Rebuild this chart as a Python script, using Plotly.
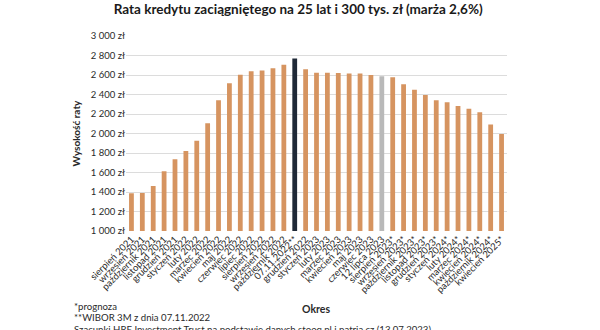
import plotly.graph_objects as go

categories = [
    "sierpień 2021", "wrzesień 2021", "październik 2021", "listopad 2021", "grudzień 2021",
    "styczeń 2022", "luty 2022", "marzec 2022", "kwiecień 2022", "maj 2022",
    "czerwiec 2022", "lipiec 2022", "sierpień 2022", "wrzesień 2022", "październik 2022",
    "07.11.2022**", "grudzień 2022", "styczeń 2023", "luty 2023", "marzec 2023",
    "kwiecień 2023", "maj 2023", "czerwiec 2023", "12 lipca 2023", "sierpień 2023*",
    "wrzesień 2023*", "październik 2023*", "listopad 2023*", "grudzień 2023*", "styczeń 2024*",
    "luty 2024*", "marzec 2024*", "kwiecień 2024*", "październik 2024*", "kwiecień 2025*",
]
values = [
    1388, 1390, 1462, 1612, 1735, 1820, 1926, 2104, 2340, 2515,
    2602, 2638, 2646, 2668, 2706, 2768, 2658, 2622, 2622, 2620,
    2616, 2616, 2600, 2586, 2576, 2506, 2448, 2396, 2342, 2321,
    2283, 2253, 2219, 2092, 1996,
]
tick_vals = [1000, 1200, 1400, 1600, 1800, 2000, 2200, 2400, 2600, 2800, 3000]
tick_text = ["1 000 zł", "1 200 zł", "1 400 zł", "1 600 zł", "1 800 zł", "2 000 zł",
             "2 200 zł", "2 400 zł", "2 600 zł", "2 800 zł", "3 000 zł"]

ORANGE = "#d69460"
colors = [ORANGE] * len(categories)
colors[categories.index("07.11.2022**")] = "#1f2937"
colors[categories.index("12 lipca 2023")] = "#b9b9b9"

FONT = "Lato"
TXT = "#2a2a2a"
fig = go.Figure(go.Bar(x=categories, y=values, marker=dict(color=colors, line=dict(width=0))))
fig.update_layout(
    width=600, height=330,
    margin=dict(l=126, r=93, t=36, b=99),
    paper_bgcolor="white", plot_bgcolor="white",
    bargap=0.56,
    showlegend=False,
    font=dict(family=FONT, color=TXT),
    title=dict(text="<b>Rata kredytu zaciągniętego na 25 lat i 300 tys. zł (marża 2,6%)</b>",
               x=0.497, xanchor="center", y=0.972, yanchor="middle",
               font=dict(family=FONT, size=13.5, color="#1a1a1a")),
)
fig.update_xaxes(tickmode="array", tickvals=categories, ticktext=categories,
                 tickangle=-45, tickfont=dict(size=9.5, family=FONT, color=TXT),
                 showgrid=False, showline=False, ticks="", automargin=False)
fig.update_yaxes(range=[1000, 3000], tickvals=tick_vals, ticktext=tick_text,
                 tickfont=dict(size=9.5, family=FONT, color=TXT),
                 showgrid=True, gridcolor="#dcdcdc", gridwidth=1, zeroline=False,
                 showline=False, ticks="", automargin=False,
                 title=dict(text="<b>Wysokość raty</b>", font=dict(size=10, family=FONT, color=TXT),
                            standoff=8))

fig.add_annotation(text="<b>Okres</b>", xref="paper", yref="paper", x=(316 - 126) / 381, y=-(309 - 231) / 195,
                   showarrow=False, font=dict(size=10.5, family=FONT, color=TXT), xanchor="center", yanchor="middle")
notes = ["*prognoza", "**WIBOR 3M z dnia 07.11.2022",
         "Szacunki HRE Investment Trust na podstawie danych stooq.pl i patria.cz (13.07.2023)"]
for i, t in enumerate(notes):
    fig.add_annotation(text=t, xref="paper", yref="paper", x=(72 - 126) / 381,
                       y=-(306 + 11.5 * i - 231) / 195, showarrow=False, xanchor="left", yanchor="middle",
                       font=dict(size=9.6, family=FONT, color=TXT))

fig.write_html("out.html")
